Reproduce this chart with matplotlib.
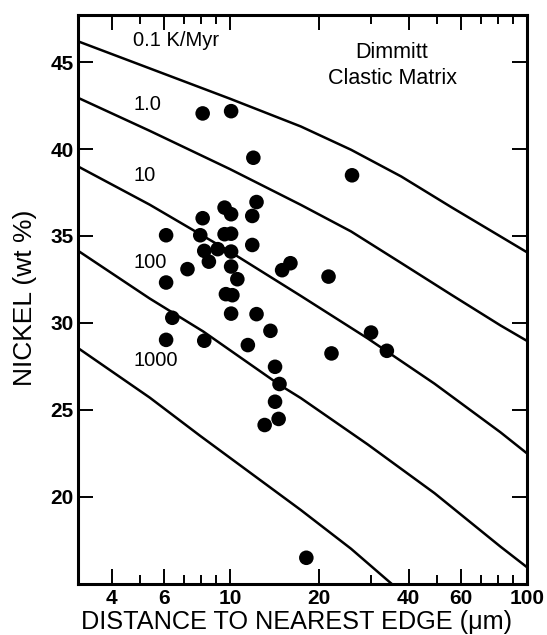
import matplotlib
matplotlib.use("Agg")
import matplotlib.pyplot as plt
from matplotlib.ticker import FixedLocator, NullFormatter, FixedFormatter

# measured Ni profiles: distance to nearest edge (um) vs Ni (wt%)
dist = [8.1, 10.1, 12.0, 25.8, 12.3, 9.6, 10.1, 11.9, 8.1, 6.1, 7.95, 9.6, 10.1,
        11.9, 8.2, 9.1, 10.1, 8.5, 7.2, 10.1, 15.0, 16.0, 21.5, 6.1, 10.6, 9.7,
        10.2, 10.1, 12.3, 6.4, 6.1, 8.2, 11.5, 13.7, 22.0, 29.9, 33.8, 14.2,
        14.7, 14.2, 13.1, 14.6, 18.1]
nickel = [42.05, 42.18, 39.5, 38.49, 36.95, 36.63, 36.25, 36.15, 36.02, 35.04,
          35.04, 35.1, 35.13, 34.48, 34.14, 34.24, 34.1, 33.52, 33.09, 33.24,
          33.03, 33.43, 32.66, 32.32, 32.51, 31.65, 31.59, 30.53, 30.5, 30.29,
          29.02, 28.97, 28.72, 29.54, 28.24, 29.44, 28.39, 27.47, 26.48, 25.46,
          24.12, 24.47, 16.48]

# cooling-rate curves
rate_labels = ["0.1 K/Myr", "1.0", "10", "100", "1000"]
curve_x = [
    [3.08, 7.0, 10, 17.34, 25.6, 37.8, 55.8, 81.6, 100],
    [3.08, 5.37, 10, 17.34, 25.6, 37.8, 55.8, 81.6, 100],
    [3.08, 5.37, 10, 17.34, 29.15, 48.9, 81.6, 100],
    [3.08, 5.37, 8.14, 14.8, 17.34, 29.15, 48.9, 81.6, 100],
    [3.08, 5.37, 7.94, 17.34, 25.6, 34.97],
]
curve_y = [
    [46.2, 43.9, 42.9, 41.3, 39.96, 38.42, 36.65, 34.97, 34.07],
    [42.95, 41.05, 38.85, 36.79, 35.26, 33.44, 31.61, 29.85, 28.97],
    [39.0, 36.8, 34.1, 31.55, 29.1, 26.5, 23.7, 22.5],
    [34.15, 31.4, 29.5, 26.4, 25.67, 23.0, 20.2, 17.12, 15.95],
    [28.55, 25.7, 23.5, 19.23, 17.0, 15.0],
]

xmajor = [4, 6, 10, 20, 40, 60, 100]
xminor = [5, 7, 8, 9, 30, 50, 70, 80, 90]
yticks = [20, 25, 30, 35, 40, 45]

plt.rcParams["font.family"] = ["Liberation Sans", "DejaVu Sans"]

fig = plt.figure(figsize=(5.47, 6.35), dpi=100)
ax = fig.add_axes([0.1426, 0.0811, 0.8203, 0.8949])

for cx, cy in zip(curve_x, curve_y):
    ax.plot(cx, cy, color="black", lw=1.8, solid_joinstyle="round")
ax.scatter(dist, nickel, s=110, color="black", edgecolors="none", zorder=3)

ax.set_xscale("log")
ax.set_xlim(3.08, 100)
ax.set_ylim(15, 47.7)

ax.xaxis.set_major_locator(FixedLocator(xmajor))
ax.xaxis.set_major_formatter(FixedFormatter([str(v) for v in xmajor]))
ax.xaxis.set_minor_locator(FixedLocator(xminor))
ax.xaxis.set_minor_formatter(NullFormatter())
ax.set_yticks(yticks)

ax.tick_params(which="major", direction="in", length=11, width=1.4,
               top=True, right=True, labelsize=15, pad=4)
ax.tick_params(which="minor", direction="in", length=6.5, width=1.4,
               top=True, right=True)
ax.tick_params(axis="y", pad=3)
for lab in ax.get_xticklabels() + ax.get_yticklabels():
    lab.set_fontweight("bold")
for sp in ax.spines.values():
    sp.set_linewidth(2.2)

tx = 0.123
ax.text(tx, 0.956, rate_labels[0], transform=ax.transAxes, fontsize=14.5,
        va="center", ha="left")
for lab, yy in zip(rate_labels[1:], [0.843, 0.718, 0.565, 0.393]):
    ax.text(tx, yy, lab, transform=ax.transAxes, fontsize=14.5,
            va="center", ha="left")

ax.text(0.70, 0.935, "Dimmitt", transform=ax.transAxes, fontsize=15.5,
        ha="center", va="center")
ax.text(0.70, 0.889, "Clastic Matrix", transform=ax.transAxes, fontsize=15.5,
        ha="center", va="center")

fig.text(0.046, 0.531, "NICKEL (wt %)", rotation=90, fontsize=19,
         ha="center", va="center")
fig.text(0.543, 0.021, "DISTANCE TO NEAREST EDGE (\u03bcm)", fontsize=18.2,
         ha="center", va="center")

fig.savefig("out.png", dpi=100, facecolor="white")
